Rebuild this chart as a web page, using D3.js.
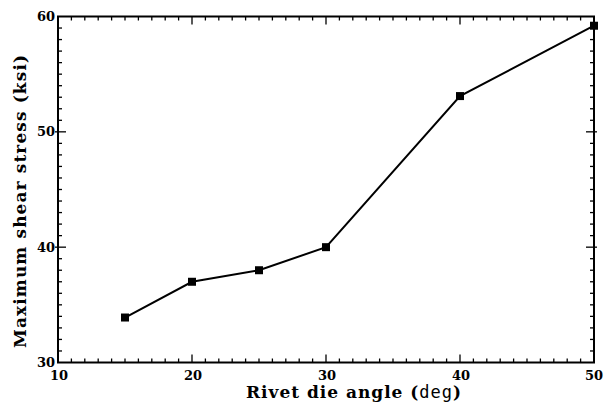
<!DOCTYPE html>
<html>
<head>
<meta charset="utf-8">
<script src="https://cdn.jsdelivr.net/npm/d3@7"></script>
<style>
  body { margin: 0; background: #fff; }
  svg { display: block; }
</style>
</head>
<body>
<div id="chart"></div>
<script>
// data
const angles = [15, 20, 25, 30, 40, 50];
const stress = [33.9, 37.0, 38.0, 40.0, 53.1, 59.2];
const xTicks = [10, 20, 30, 40, 50];
const yTicks = [30, 40, 50, 60];

const W = 605, H = 407;
const margin = {top: 16.5, right: 11, bottom: 44.5, left: 58};
const width = W - margin.left - margin.right,
      height = H - margin.top - margin.bottom;

const svg = d3.select("#chart").append("svg")
    .attr("width", W)
    .attr("height", H);

const g = svg.append("g")
    .attr("transform", `translate(${margin.left},${margin.top})`);

const x = d3.scaleLinear().domain([10, 50]).range([0, width]);
const y = d3.scaleLinear().domain([30, 60]).range([height, 0]);

const minorX = d3.range(10, 51, 1).filter(d => d % 10 !== 0);
const minorY = d3.range(30, 61, 1).filter(d => d % 10 !== 0);

// frame
g.append("rect")
    .attr("width", width)
    .attr("height", height)
    .attr("fill", "none")
    .attr("stroke", "#000")
    .attr("stroke-width", 2);

// ticks on all four sides, pointing in
const tickG = g.append("g").attr("stroke", "#000").attr("stroke-width", 1.3);

// bottom + top
[[height, -1], [0, 1]].forEach(([y0, dir]) => {
    tickG.selectAll(null).data(minorX).join("line")
        .attr("x1", d => x(d)).attr("x2", d => x(d))
        .attr("y1", y0).attr("y2", y0 + dir * 4);
    tickG.selectAll(null).data(xTicks.slice(1, -1)).join("line")
        .attr("x1", d => x(d)).attr("x2", d => x(d))
        .attr("y1", y0).attr("y2", y0 + dir * 8);
});

// left + right
[[0, 1], [width, -1]].forEach(([x0, dir]) => {
    tickG.selectAll(null).data(minorY).join("line")
        .attr("y1", d => y(d)).attr("y2", d => y(d))
        .attr("x1", x0).attr("x2", x0 + dir * 4);
    tickG.selectAll(null).data(yTicks.slice(1, -1)).join("line")
        .attr("y1", d => y(d)).attr("y2", d => y(d))
        .attr("x1", x0 - dir * 3).attr("x2", x0 + dir * 8);
});

const serif = "'DejaVu Serif', 'Liberation Serif', serif";

// tick labels
g.append("g").selectAll("text").data(xTicks).join("text")
    .attr("x", (d, i) => x(d) + (i === xTicks.length - 1 ? 0 : 1))
    .attr("y", height + 17)
    .attr("text-anchor", "middle")
    .attr("font-family", serif)
    .attr("font-weight", "bold")
    .attr("font-size", 13)
    .text(d => d);

g.append("g").selectAll("text").data(yTicks).join("text")
    .attr("x", -3)
    .attr("y", d => y(d) + 4.5)
    .attr("text-anchor", "end")
    .attr("font-family", serif)
    .attr("font-weight", "bold")
    .attr("font-size", 13)
    .text(d => d);

// line + square markers
const line = d3.line()
    .x((d, i) => x(angles[i]))
    .y(d => y(d));

g.append("path")
    .datum(stress)
    .attr("d", line)
    .attr("fill", "none")
    .attr("stroke", "#000")
    .attr("stroke-width", 2);

g.selectAll(".pt").data(stress).join("rect")
    .attr("class", "pt")
    .attr("x", (d, i) => x(angles[i]) - 4)
    .attr("y", d => y(d) - 4)
    .attr("width", 8)
    .attr("height", 8)
    .attr("fill", "#000");

// axis titles
const xt = svg.append("text")
    .attr("x", 246)
    .attr("y", H - 9)
    .attr("font-family", serif)
    .attr("font-weight", "bold")
    .attr("font-size", 17)
    .attr("textLength", 215)
    .attr("lengthAdjust", "spacing");
xt.append("tspan").text("Rivet die angle (");
xt.append("tspan").attr("font-family", "'DejaVu Sans Mono', monospace").attr("font-weight", "normal").text("deg");
xt.append("tspan").text(")");

svg.append("text")
    .attr("transform", `translate(26,348) rotate(-90)`)
    .attr("font-family", serif)
    .attr("font-weight", "bold")
    .attr("font-size", 17)
    .attr("textLength", 293)
    .attr("lengthAdjust", "spacing")
    .text("Maximum shear stress (ksi)");
</script>
</body>
</html>
